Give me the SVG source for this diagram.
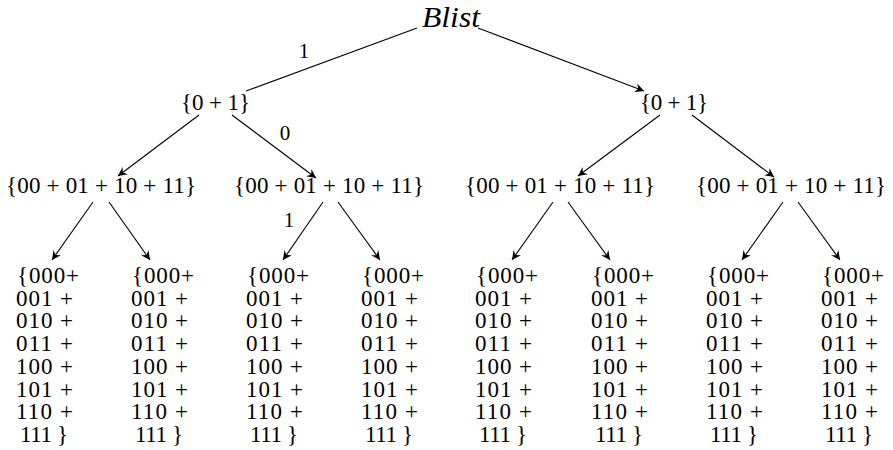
<svg xmlns="http://www.w3.org/2000/svg" width="893" height="450" viewBox="0 0 893 450">
<style>
text{font-family:"Liberation Serif","Times New Roman",serif;fill:#000;}
.n{font-size:23px;}
.lbl{font-size:21px;text-anchor:middle;}
.root{font-size:29px;font-style:italic;}
.e{stroke:#000;stroke-width:1.1;fill:none;}
.a{marker-end:url(#arr);}
</style>
<defs>
<marker id="arr" markerUnits="userSpaceOnUse" markerWidth="14" markerHeight="12" viewBox="-10 -6 12 12" refX="0" refY="0" orient="auto">
<path d="M0,0 L-9,-4.5 L-6,0 L-9,4.5 Z" fill="#000"/>
</marker>
</defs>
<g id="connectors">
<line class="e" x1="417" y1="28" x2="246" y2="91"/>
<line class="e a" x1="478" y1="28" x2="644" y2="91"/>
<line class="e a" x1="199" y1="115" x2="118" y2="176"/>
<line class="e a" x1="232" y1="115" x2="316" y2="178"/>
<line class="e a" x1="660" y1="115" x2="578" y2="176"/>
<line class="e a" x1="692" y1="115" x2="774" y2="177"/>
<line class="e a" x1="93" y1="202" x2="52" y2="260"/>
<line class="e a" x1="109" y1="202" x2="150" y2="260"/>
<line class="e a" x1="323" y1="202" x2="283" y2="260"/>
<line class="e a" x1="338" y1="202" x2="380" y2="260"/>
<line class="e a" x1="553" y1="202" x2="512" y2="260"/>
<line class="e a" x1="568" y1="202" x2="610" y2="260"/>
<line class="e a" x1="783" y1="202" x2="742" y2="260"/>
<line class="e a" x1="798" y1="202" x2="840" y2="260"/>
<text class="lbl" x="304" y="58">1</text>
<text class="lbl" x="285" y="140">0</text>
<text class="lbl" x="289" y="227">1</text>
</g>
<g id="root"><text class="root" x="422" y="27" textLength="58" lengthAdjust="spacingAndGlyphs">Blist</text></g>
<g id="l1a"><text class="n" x="181" y="110" textLength="69">{0 + 1}</text></g>
<g id="l1b"><text class="n" x="640" y="110" textLength="68">{0 + 1}</text></g>
<g id="l2a"><text class="n" x="6" y="193" textLength="190">{00 + 01 + 10 + 11}</text></g>
<g id="l2b"><text class="n" x="234" y="193" textLength="190">{00 + 01 + 10 + 11}</text></g>
<g id="l2c"><text class="n" x="465" y="193" textLength="190">{00 + 01 + 10 + 11}</text></g>
<g id="l2d"><text class="n" x="696" y="193" textLength="190">{00 + 01 + 10 + 11}</text></g>
<g id="leaf1" class="n"><text x="17" y="283" textLength="62">{000+</text><text x="16" y="305.7" textLength="57">001 +</text><text x="16" y="328.4" textLength="57">010 +</text><text x="16" y="351.1" textLength="57">011 +</text><text x="16" y="373.8" textLength="57">100 +</text><text x="16" y="396.5" textLength="57">101 +</text><text x="16" y="419.2" textLength="57">110 +</text><text x="20" y="442" textLength="48">111 }</text></g>
<g id="leaf2" class="n"><text x="132" y="283" textLength="62">{000+</text><text x="131" y="305.7" textLength="57">001 +</text><text x="131" y="328.4" textLength="57">010 +</text><text x="131" y="351.1" textLength="57">011 +</text><text x="131" y="373.8" textLength="57">100 +</text><text x="131" y="396.5" textLength="57">101 +</text><text x="131" y="419.2" textLength="57">110 +</text><text x="135" y="442" textLength="48">111 }</text></g>
<g id="leaf3" class="n"><text x="247" y="283" textLength="62">{000+</text><text x="246" y="305.7" textLength="57">001 +</text><text x="246" y="328.4" textLength="57">010 +</text><text x="246" y="351.1" textLength="57">011 +</text><text x="246" y="373.8" textLength="57">100 +</text><text x="246" y="396.5" textLength="57">101 +</text><text x="246" y="419.2" textLength="57">110 +</text><text x="250" y="442" textLength="48">111 }</text></g>
<g id="leaf4" class="n"><text x="362" y="283" textLength="62">{000+</text><text x="361" y="305.7" textLength="57">001 +</text><text x="361" y="328.4" textLength="57">010 +</text><text x="361" y="351.1" textLength="57">011 +</text><text x="361" y="373.8" textLength="57">100 +</text><text x="361" y="396.5" textLength="57">101 +</text><text x="361" y="419.2" textLength="57">110 +</text><text x="365" y="442" textLength="48">111 }</text></g>
<g id="leaf5" class="n"><text x="476" y="283" textLength="62">{000+</text><text x="475" y="305.7" textLength="57">001 +</text><text x="475" y="328.4" textLength="57">010 +</text><text x="475" y="351.1" textLength="57">011 +</text><text x="475" y="373.8" textLength="57">100 +</text><text x="475" y="396.5" textLength="57">101 +</text><text x="475" y="419.2" textLength="57">110 +</text><text x="479" y="442" textLength="48">111 }</text></g>
<g id="leaf6" class="n"><text x="592" y="283" textLength="62">{000+</text><text x="591" y="305.7" textLength="57">001 +</text><text x="591" y="328.4" textLength="57">010 +</text><text x="591" y="351.1" textLength="57">011 +</text><text x="591" y="373.8" textLength="57">100 +</text><text x="591" y="396.5" textLength="57">101 +</text><text x="591" y="419.2" textLength="57">110 +</text><text x="595" y="442" textLength="48">111 }</text></g>
<g id="leaf7" class="n"><text x="707" y="283" textLength="62">{000+</text><text x="706" y="305.7" textLength="57">001 +</text><text x="706" y="328.4" textLength="57">010 +</text><text x="706" y="351.1" textLength="57">011 +</text><text x="706" y="373.8" textLength="57">100 +</text><text x="706" y="396.5" textLength="57">101 +</text><text x="706" y="419.2" textLength="57">110 +</text><text x="710" y="442" textLength="48">111 }</text></g>
<g id="leaf8" class="n"><text x="822" y="283" textLength="62">{000+</text><text x="821" y="305.7" textLength="57">001 +</text><text x="821" y="328.4" textLength="57">010 +</text><text x="821" y="351.1" textLength="57">011 +</text><text x="821" y="373.8" textLength="57">100 +</text><text x="821" y="396.5" textLength="57">101 +</text><text x="821" y="419.2" textLength="57">110 +</text><text x="825" y="442" textLength="48">111 }</text></g>
</svg>
